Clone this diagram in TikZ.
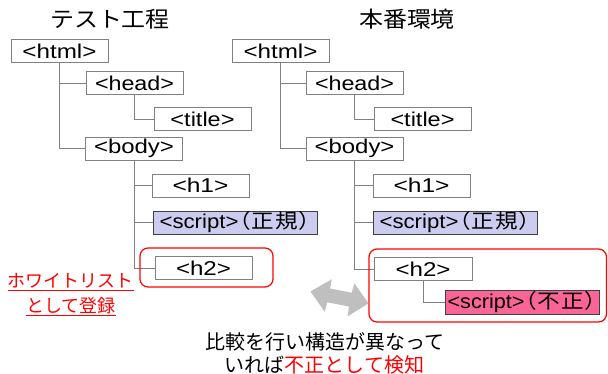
\documentclass[tikz,border=0pt]{standalone}
\usepackage{fontspec}
\usepackage{graphicx}
\setmainfont{Liberation Sans}
\newfontfamily\cjk{Noto Sans CJK JP}
\newfontfamily\cjkp[RawFeature=+palt, LetterSpace=6]{Noto Sans CJK JP}
\definecolor{boxgray}{RGB}{128,128,128}
\definecolor{linegray}{RGB}{128,128,128}
\definecolor{lav}{RGB}{204,204,240}
\definecolor{pinkfill}{RGB}{250,100,150}
\definecolor{arrowgray}{RGB}{191,191,191}
\definecolor{myred}{RGB}{255,0,0}
\newcommand{\tw}[2]{\resizebox{#1pt}{\height}{#2}}
\newcommand{\jx}[1]{\scalebox{1.13}[1]{\cjkp\fontsize{20}{22}\selectfont #1}}
\newcommand{\boxfont}{\fontsize{20}{22}\selectfont}
\begin{document}
\begin{tikzpicture}[x=1pt,y=-1pt,
  tagbox/.style={draw=boxgray, line width=0.8pt, fill=white, minimum width=97pt,
    minimum height=23pt, inner sep=0pt, font=\boxfont},
  okbox/.style={tagbox, fill=lav, draw=black!75, minimum width=164pt},
  badbox/.style={tagbox, fill=pinkfill, draw=black!75, minimum width=154pt, minimum height=24pt},
  conn/.style={draw=linegray, line width=0.8pt},
  frame/.style={draw=myred, line width=1.2pt, rounded corners=8pt},
  ttl/.style={font=\cjk\fontsize{22}{24}\selectfont, inner sep=0pt},
  note/.style={font=\cjk\fontsize{20}{22}\selectfont, inner sep=0pt},
  rednote/.style={font=\cjk\fontsize{18}{20}\selectfont, text=myred, inner sep=0pt}]
\useasboundingbox (0,0) rectangle (608,374);

% titles
\node[ttl] (ltitleTxt) at (110,19) {\scalebox{1.09}[1]{テスト工程}};
\node[ttl] (rtitleTxt) at (407,19) {\scalebox{1.09}[1]{本番環境}};

% left tree
\node[tagbox] (lhtml)  at (59.5,51)   {\tw{74}{<html>}};
\node[tagbox] (lhead)  at (134.5,83)  {\tw{79}{<head>}};
\node[tagbox] (ltitle) at (202.5,119) {\tw{64}{<title>}};
\node[tagbox] (lbody)  at (134,148.5) {\tw{80}{<body>}};
\node[tagbox] (lh1)    at (200.5,185.5) {\tw{56}{<h1>}};
\node[okbox]  (lscript) at (235,222.5) {\tw{79}{<script>}\jx{（正規）}};
\node[tagbox] (lh2)    at (203.5,268) {\tw{55}{<h2>}};

% right tree
\node[tagbox] (rhtml)  at (280.5,51)   {\tw{74}{<html>}};
\node[tagbox] (rhead)  at (354.5,83)  {\tw{79}{<head>}};
\node[tagbox] (rtitle) at (422.5,119) {\tw{64}{<title>}};
\node[tagbox] (rbody)  at (354.5,148.5) {\tw{80}{<body>}};
\node[tagbox] (rh1)    at (421.5,185.5) {\tw{56}{<h1>}};
\node[okbox]  (rscript) at (455,222.5) {\tw{79}{<script>}\jx{（正規）}};
\node[tagbox, minimum width=98pt] (rh2) at (423,269) {\tw{55}{<h2>}};
\node[badbox] (rbad)   at (522,302) {\tw{77}{<script>}\jx{（不正）}};

% connectors left
\draw[conn] (lhtml.south) |- (lhead.west);
\draw[conn] (lhtml.south) |- (lbody.west);
\draw[conn] (lhead.south) |- (ltitle.west);
\draw[conn] (lbody.south) |- (lh1.west);
\draw[conn] (lbody.south) |- (lscript.west);
\draw[conn] (lbody.south) |- (lh2.west);

% connectors right
\draw[conn] (rhtml.south) |- (rhead.west);
\draw[conn] (rhtml.south) |- (rbody.west);
\draw[conn] (rhead.south) |- (rtitle.west);
\draw[conn] (rbody.south) |- (rh1.west);
\draw[conn] (rbody.south) |- (rscript.west);
\draw[conn] (rbody.south) |- (rh2.west);
\draw[conn] (rh2.south) |- (rbad.west);

% red frames
\draw[frame] (140,248) rectangle (273,287);
\draw[frame] (369,249) rectangle (606.5,322);

% gray double arrow
\fill[arrowgray] (310.5,291.5) -- (331.8,279.2) -- (330.05,288.5) -- (351.65,292.7)
  -- (354.4,283.4) -- (368.5,303.3) -- (347.7,316.3) -- (348.95,306.5)
  -- (327.35,302.3) -- (324.6,311.6) -- cycle;

% notes
\node[rednote] (wl1) at (71,282) {\underline{ホワイトリスト}};
\node[rednote] (wl2) at (71,307) {\underline{として登録}};
\node[note] (cmp1) at (324.5,342) {比較を行い構造が異なって};
\node[note] (cmp2) at (324.5,364.5) {いれば{\color{myred}不正として検知}};
\end{tikzpicture}
\end{document}
